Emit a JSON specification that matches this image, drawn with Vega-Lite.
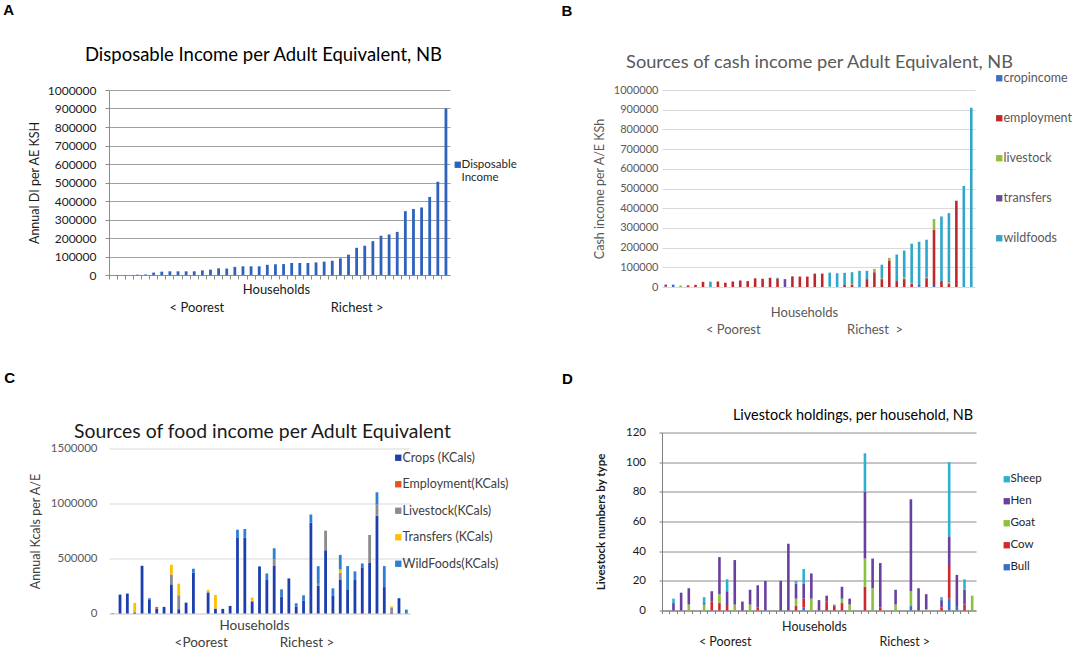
{
  "$schema": "https://vega.github.io/schema/vega-lite/v6.json",
  "padding": {"left": 3, "top": 2, "right": 0, "bottom": 0},
  "background": "white",
  "config": {
    "font": "Lato",
    "view": {"stroke": null},
    "title": {"font": "Lato", "fontWeight": "normal"},
    "axis": {"labelFont": "Lato", "titleFont": "Lato", "titleFontWeight": "normal"},
    "legend": {"labelFont": "Lato", "padding": 0, "offset": 0, "symbolType": "square", "symbolSize": 40, "symbolStrokeWidth": 0, "labelOffset": -2, "title": null}
  },
  "datasets": {
    "income": [
      {"household": 1, "income": 0}, {"household": 2, "income": 0}, {"household": 3, "income": 0},
      {"household": 4, "income": 2000}, {"household": 5, "income": 3000}, {"household": 6, "income": 13000},
      {"household": 7, "income": 18000}, {"household": 8, "income": 20000}, {"household": 9, "income": 20000},
      {"household": 10, "income": 20000}, {"household": 11, "income": 20000}, {"household": 12, "income": 25000},
      {"household": 13, "income": 29000}, {"household": 14, "income": 36000}, {"household": 15, "income": 35000},
      {"household": 16, "income": 44000}, {"household": 17, "income": 47000}, {"household": 18, "income": 47000},
      {"household": 19, "income": 47000}, {"household": 20, "income": 55000}, {"household": 21, "income": 58000},
      {"household": 22, "income": 59000}, {"household": 23, "income": 65000}, {"household": 24, "income": 65000},
      {"household": 25, "income": 65000}, {"household": 26, "income": 68000}, {"household": 27, "income": 72000},
      {"household": 28, "income": 77000}, {"household": 29, "income": 90000}, {"household": 30, "income": 110000},
      {"household": 31, "income": 147000}, {"household": 32, "income": 158000}, {"household": 33, "income": 183000},
      {"household": 34, "income": 212000}, {"household": 35, "income": 219000}, {"household": 36, "income": 233000},
      {"household": 37, "income": 345000}, {"household": 38, "income": 357000}, {"household": 39, "income": 365000},
      {"household": 40, "income": 422000}, {"household": 41, "income": 504000}, {"household": 42, "income": 900000}
    ],
    "cash": [
      {"household": 1, "source": "cropincome", "value": 3000}, {"household": 1, "source": "employment", "value": 9000},
      {"household": 2, "source": "cropincome", "value": 12000},
      {"household": 3, "source": "livestock", "value": 8000},
      {"household": 4, "source": "employment", "value": 8000}, {"household": 4, "source": "livestock", "value": 3000},
      {"household": 5, "source": "employment", "value": 11000},
      {"household": 6, "source": "employment", "value": 26000},
      {"household": 7, "source": "wildfoods", "value": 27000},
      {"household": 8, "source": "employment", "value": 28000},
      {"household": 9, "source": "employment", "value": 22000},
      {"household": 10, "source": "employment", "value": 28000},
      {"household": 11, "source": "employment", "value": 33000},
      {"household": 12, "source": "employment", "value": 30000},
      {"household": 13, "source": "employment", "value": 44000},
      {"household": 14, "source": "employment", "value": 42000},
      {"household": 15, "source": "employment", "value": 47000},
      {"household": 16, "source": "employment", "value": 42000}, {"household": 16, "source": "wildfoods", "value": 5000},
      {"household": 17, "source": "transfers", "value": 40000},
      {"household": 18, "source": "employment", "value": 54000},
      {"household": 19, "source": "employment", "value": 53000},
      {"household": 20, "source": "employment", "value": 53000},
      {"household": 21, "source": "employment", "value": 68000},
      {"household": 22, "source": "employment", "value": 68000},
      {"household": 23, "source": "livestock", "value": 3000}, {"household": 23, "source": "wildfoods", "value": 70000},
      {"household": 24, "source": "wildfoods", "value": 70000},
      {"household": 25, "source": "employment", "value": 10000}, {"household": 25, "source": "wildfoods", "value": 62000},
      {"household": 26, "source": "employment", "value": 12000}, {"household": 26, "source": "livestock", "value": 3000}, {"household": 26, "source": "wildfoods", "value": 60000},
      {"household": 27, "source": "wildfoods", "value": 82000},
      {"household": 28, "source": "employment", "value": 40000}, {"household": 28, "source": "wildfoods", "value": 42000},
      {"household": 29, "source": "employment", "value": 75000}, {"household": 29, "source": "livestock", "value": 17000},
      {"household": 30, "source": "employment", "value": 40000}, {"household": 30, "source": "livestock", "value": 5000}, {"household": 30, "source": "wildfoods", "value": 68000},
      {"household": 31, "source": "employment", "value": 135000}, {"household": 31, "source": "livestock", "value": 13000},
      {"household": 32, "source": "employment", "value": 30000}, {"household": 32, "source": "wildfoods", "value": 135000},
      {"household": 33, "source": "employment", "value": 40000}, {"household": 33, "source": "livestock", "value": 10000}, {"household": 33, "source": "wildfoods", "value": 135000},
      {"household": 34, "source": "employment", "value": 15000}, {"household": 34, "source": "livestock", "value": 5000}, {"household": 34, "source": "wildfoods", "value": 200000},
      {"household": 35, "source": "cropincome", "value": 3000}, {"household": 35, "source": "transfers", "value": 7000}, {"household": 35, "source": "wildfoods", "value": 220000},
      {"household": 36, "source": "employment", "value": 45000}, {"household": 36, "source": "livestock", "value": 5000}, {"household": 36, "source": "wildfoods", "value": 190000},
      {"household": 37, "source": "cropincome", "value": 5000}, {"household": 37, "source": "employment", "value": 285000}, {"household": 37, "source": "livestock", "value": 55000},
      {"household": 38, "source": "employment", "value": 30000}, {"household": 38, "source": "wildfoods", "value": 328000},
      {"household": 39, "source": "employment", "value": 15000}, {"household": 39, "source": "livestock", "value": 10000}, {"household": 39, "source": "wildfoods", "value": 350000},
      {"household": 40, "source": "employment", "value": 438000},
      {"household": 41, "source": "wildfoods", "value": 513000},
      {"household": 42, "source": "wildfoods", "value": 910000}
    ],
    "food": [
      {"household": 1, "source": "Crops (KCals)", "value": 3000},
      {"household": 2, "source": "Crops (KCals)", "value": 172000},
      {"household": 3, "source": "Crops (KCals)", "value": 181000},
      {"household": 4, "source": "Crops (KCals)", "value": 10000}, {"household": 4, "source": "Transfers (KCals)", "value": 86000},
      {"household": 5, "source": "Crops (KCals)", "value": 434000},
      {"household": 6, "source": "Crops (KCals)", "value": 129000}, {"household": 6, "source": "WildFoods(KCals)", "value": 10000},
      {"household": 7, "source": "Crops (KCals)", "value": 45000}, {"household": 7, "source": "Employment(KCals)", "value": 15000},
      {"household": 8, "source": "Crops (KCals)", "value": 60000},
      {"household": 9, "source": "Crops (KCals)", "value": 265000}, {"household": 9, "source": "Livestock(KCals)", "value": 90000}, {"household": 9, "source": "Transfers (KCals)", "value": 88000},
      {"household": 10, "source": "Crops (KCals)", "value": 39000}, {"household": 10, "source": "Livestock(KCals)", "value": 127000}, {"household": 10, "source": "Transfers (KCals)", "value": 105000},
      {"household": 11, "source": "Crops (KCals)", "value": 99000},
      {"household": 12, "source": "Crops (KCals)", "value": 370000}, {"household": 12, "source": "WildFoods(KCals)", "value": 37000},
      {"household": 13, "source": "Crops (KCals)", "value": 0},
      {"household": 14, "source": "Crops (KCals)", "value": 192000}, {"household": 14, "source": "Transfers (KCals)", "value": 22000},
      {"household": 15, "source": "Crops (KCals)", "value": 45000}, {"household": 15, "source": "Transfers (KCals)", "value": 124000},
      {"household": 16, "source": "Crops (KCals)", "value": 42000},
      {"household": 17, "source": "Crops (KCals)", "value": 69000},
      {"household": 18, "source": "Crops (KCals)", "value": 687000}, {"household": 18, "source": "WildFoods(KCals)", "value": 75000},
      {"household": 19, "source": "Crops (KCals)", "value": 690000}, {"household": 19, "source": "WildFoods(KCals)", "value": 78000},
      {"household": 20, "source": "Crops (KCals)", "value": 105000}, {"household": 20, "source": "Livestock(KCals)", "value": 10000}, {"household": 20, "source": "Transfers (KCals)", "value": 30000},
      {"household": 21, "source": "Crops (KCals)", "value": 426000}, {"household": 21, "source": "WildFoods(KCals)", "value": 5000},
      {"household": 22, "source": "Crops (KCals)", "value": 310000}, {"household": 22, "source": "WildFoods(KCals)", "value": 54000},
      {"household": 23, "source": "Crops (KCals)", "value": 437000}, {"household": 23, "source": "Livestock(KCals)", "value": 54000}, {"household": 23, "source": "WildFoods(KCals)", "value": 102000},
      {"household": 24, "source": "Crops (KCals)", "value": 155000}, {"household": 24, "source": "WildFoods(KCals)", "value": 65000},
      {"household": 25, "source": "Crops (KCals)", "value": 319000},
      {"household": 26, "source": "Crops (KCals)", "value": 60000}, {"household": 26, "source": "WildFoods(KCals)", "value": 33000},
      {"household": 27, "source": "Crops (KCals)", "value": 115000}, {"household": 27, "source": "WildFoods(KCals)", "value": 51000},
      {"household": 28, "source": "Crops (KCals)", "value": 825000}, {"household": 28, "source": "WildFoods(KCals)", "value": 75000},
      {"household": 29, "source": "Crops (KCals)", "value": 250000}, {"household": 29, "source": "Livestock(KCals)", "value": 20000}, {"household": 29, "source": "WildFoods(KCals)", "value": 160000},
      {"household": 30, "source": "Crops (KCals)", "value": 575000}, {"household": 30, "source": "Livestock(KCals)", "value": 178000},
      {"household": 31, "source": "Crops (KCals)", "value": 160000}, {"household": 31, "source": "WildFoods(KCals)", "value": 69000},
      {"household": 32, "source": "Crops (KCals)", "value": 310000}, {"household": 32, "source": "Livestock(KCals)", "value": 60000}, {"household": 32, "source": "Transfers (KCals)", "value": 30000}, {"household": 32, "source": "WildFoods(KCals)", "value": 133000},
      {"household": 33, "source": "Crops (KCals)", "value": 220000}, {"household": 33, "source": "WildFoods(KCals)", "value": 211000},
      {"household": 34, "source": "Crops (KCals)", "value": 310000}, {"household": 34, "source": "WildFoods(KCals)", "value": 73000},
      {"household": 35, "source": "Crops (KCals)", "value": 420000}, {"household": 35, "source": "WildFoods(KCals)", "value": 35000},
      {"household": 36, "source": "Crops (KCals)", "value": 460000}, {"household": 36, "source": "Livestock(KCals)", "value": 254000},
      {"household": 37, "source": "Crops (KCals)", "value": 890000}, {"household": 37, "source": "Livestock(KCals)", "value": 100000}, {"household": 37, "source": "WildFoods(KCals)", "value": 112000},
      {"household": 38, "source": "Crops (KCals)", "value": 240000}, {"household": 38, "source": "WildFoods(KCals)", "value": 191000},
      {"household": 39, "source": "Crops (KCals)", "value": 10000}, {"household": 39, "source": "Employment(KCals)", "value": 5000}, {"household": 39, "source": "Livestock(KCals)", "value": 35000}, {"household": 39, "source": "Transfers (KCals)", "value": 15000},
      {"household": 40, "source": "Crops (KCals)", "value": 139000},
      {"household": 41, "source": "WildFoods(KCals)", "value": 35000}
    ],
    "livestock": [
      {"household": 1, "type": "Hen", "count": 0},
      {"household": 2, "type": "Hen", "count": 5}, {"household": 2, "type": "Sheep", "count": 3},
      {"household": 3, "type": "Hen", "count": 12},
      {"household": 4, "type": "Goat", "count": 4}, {"household": 4, "type": "Hen", "count": 11},
      {"household": 5, "type": "Hen", "count": 0},
      {"household": 6, "type": "Goat", "count": 4}, {"household": 6, "type": "Hen", "count": 1}, {"household": 6, "type": "Sheep", "count": 4},
      {"household": 7, "type": "Cow", "count": 6}, {"household": 7, "type": "Hen", "count": 7},
      {"household": 8, "type": "Cow", "count": 5}, {"household": 8, "type": "Goat", "count": 6}, {"household": 8, "type": "Hen", "count": 25},
      {"household": 9, "type": "Cow", "count": 3}, {"household": 9, "type": "Hen", "count": 10}, {"household": 9, "type": "Sheep", "count": 8},
      {"household": 10, "type": "Goat", "count": 4}, {"household": 10, "type": "Hen", "count": 30},
      {"household": 11, "type": "Hen", "count": 6},
      {"household": 12, "type": "Goat", "count": 4}, {"household": 12, "type": "Hen", "count": 10},
      {"household": 13, "type": "Cow", "count": 2}, {"household": 13, "type": "Hen", "count": 15},
      {"household": 14, "type": "Hen", "count": 20},
      {"household": 15, "type": "Hen", "count": 0},
      {"household": 16, "type": "Hen", "count": 20},
      {"household": 17, "type": "Hen", "count": 45},
      {"household": 18, "type": "Cow", "count": 3}, {"household": 18, "type": "Goat", "count": 5}, {"household": 18, "type": "Hen", "count": 10}, {"household": 18, "type": "Sheep", "count": 2},
      {"household": 19, "type": "Bull", "count": 2}, {"household": 19, "type": "Cow", "count": 6}, {"household": 19, "type": "Hen", "count": 10}, {"household": 19, "type": "Sheep", "count": 10},
      {"household": 20, "type": "Goat", "count": 8}, {"household": 20, "type": "Hen", "count": 17},
      {"household": 21, "type": "Hen", "count": 7},
      {"household": 22, "type": "Cow", "count": 6}, {"household": 22, "type": "Hen", "count": 4},
      {"household": 23, "type": "Cow", "count": 3}, {"household": 23, "type": "Sheep", "count": 1},
      {"household": 24, "type": "Cow", "count": 5}, {"household": 24, "type": "Goat", "count": 3}, {"household": 24, "type": "Hen", "count": 8},
      {"household": 25, "type": "Goat", "count": 4}, {"household": 25, "type": "Hen", "count": 4},
      {"household": 26, "type": "Hen", "count": 0},
      {"household": 27, "type": "Cow", "count": 16}, {"household": 27, "type": "Goat", "count": 19}, {"household": 27, "type": "Hen", "count": 45}, {"household": 27, "type": "Sheep", "count": 26},
      {"household": 28, "type": "Goat", "count": 15}, {"household": 28, "type": "Hen", "count": 20},
      {"household": 29, "type": "Cow", "count": 2}, {"household": 29, "type": "Hen", "count": 30},
      {"household": 30, "type": "Hen", "count": 0},
      {"household": 31, "type": "Goat", "count": 4}, {"household": 31, "type": "Hen", "count": 10},
      {"household": 32, "type": "Hen", "count": 0},
      {"household": 33, "type": "Bull", "count": 3}, {"household": 33, "type": "Goat", "count": 10}, {"household": 33, "type": "Hen", "count": 62},
      {"household": 34, "type": "Hen", "count": 15},
      {"household": 35, "type": "Goat", "count": 1}, {"household": 35, "type": "Hen", "count": 10},
      {"household": 36, "type": "Hen", "count": 0},
      {"household": 37, "type": "Cow", "count": 2}, {"household": 37, "type": "Hen", "count": 5}, {"household": 37, "type": "Sheep", "count": 2},
      {"household": 38, "type": "Bull", "count": 8}, {"household": 38, "type": "Cow", "count": 22}, {"household": 38, "type": "Hen", "count": 20}, {"household": 38, "type": "Sheep", "count": 50},
      {"household": 39, "type": "Bull", "count": 3}, {"household": 39, "type": "Hen", "count": 21},
      {"household": 40, "type": "Cow", "count": 4}, {"household": 40, "type": "Hen", "count": 10}, {"household": 40, "type": "Sheep", "count": 7},
      {"household": 41, "type": "Goat", "count": 10}
    ]
  },
  "resolve": {"scale": {"color": "independent", "x": "independent", "y": "independent"}, "legend": {"color": "independent"}},
  "spacing": 44,
  "hconcat": [
    {
      "resolve": {"scale": {"color": "independent", "x": "independent", "y": "independent"}, "legend": {"color": "independent"}},
      "spacing": 55.5,
      "vconcat": [
        {
          "title": {"text": "A", "anchor": "start", "frame": "bounds", "font": "Liberation Sans", "fontSize": 15, "fontWeight": "bold", "color": "#000000", "dx": -25, "offset": 28},
          "resolve": {"scale": {"color": "independent"}, "legend": {"color": "independent"}},
          "vconcat": [
            {
              "width": 341,
              "height": 185,
              "data": {"name": "income"},
              "title": {"text": "Disposable Income per Adult Equivalent, NB", "frame": "group", "anchor": "middle", "fontSize": 18.5, "color": "#000000", "dx": -16, "offset": 20},
              "mark": {"type": "bar", "width": 2.8},
              "encoding": {
                "x": {
                  "field": "household", "type": "ordinal",
                  "scale": {"paddingInner": 0, "paddingOuter": 0},
                  "axis": {
                    "labels": false, "bandPosition": 0, "ticks": true, "tickSize": 4, "tickColor": "#8c8c8c", "domainColor": "#8c8c8c",
                    "title": ["Households", "< Poorest\u00a0\u00a0\u00a0\u00a0\u00a0\u00a0\u00a0\u00a0\u00a0\u00a0\u00a0\u00a0\u00a0\u00a0\u00a0\u00a0\u00a0\u00a0\u00a0\u00a0\u00a0\u00a0\u00a0\u00a0\u00a0\u00a0\u00a0\u00a0\u00a0\u00a0\u00a0\u00a0Richest >"],
                    "titleX": 167, "titleAlign": "center",
                    "titleFontSize": 13, "titleLineHeight": 18, "titlePadding": 4, "titleColor": "#1a1a1a"
                  }
                },
                "y": {
                  "field": "income", "type": "quantitative",
                  "scale": {"domain": [0, 1000000], "nice": false},
                  "axis": {
                    "values": [0, 100000, 200000, 300000, 400000, 500000, 600000, 700000, 800000, 900000, 1000000],
                    "format": "d", "grid": true, "gridColor": "#a0a0a0", "domainColor": "#8c8c8c", "tickColor": "#8c8c8c", "tickSize": 4,
                    "labelFontSize": 12, "labelColor": "#1a1a1a", "labelPadding": 9,
                    "title": "Annual DI per AE KSH", "titleFontSize": 12.5, "titleColor": "#1a1a1a", "titlePadding": 6
                  }
                },
                "color": {
                  "datum": "Disposable Income", "type": "nominal",
                  "scale": {"domain": ["Disposable Income"], "range": ["#2e62bd"]},
                  "legend": {"orient": "none", "legendX": 343, "legendY": 69, "labelExpr": "['Disposable', 'Income']", "labelFontSize": 11.5, "labelColor": "#262626"}
                }
              }
            }
          ]
        },
        {
          "title": {"text": "C", "anchor": "start", "frame": "bounds", "font": "Liberation Sans", "fontSize": 15, "fontWeight": "bold", "color": "#000000", "dx": -25, "offset": 36},
          "resolve": {"scale": {"color": "independent"}, "legend": {"color": "independent"}},
          "vconcat": [
            {
              "width": 301,
              "height": 165,
              "data": {"name": "food"},
              "title": {"text": "Sources of food income per Adult Equivalent", "frame": "group", "anchor": "middle", "fontSize": 19.4, "color": "#1a1a1a", "dx": 3, "offset": 0},
              "mark": {"type": "bar", "width": 2.8},
              "encoding": {
                "x": {
                  "field": "household", "type": "ordinal",
                  "scale": {"paddingInner": 0, "paddingOuter": 0},
                  "axis": {
                    "labels": false, "ticks": false, "domainColor": "#d9d9d9",
                    "title": ["Households", "<Poorest\u00a0\u00a0\u00a0\u00a0\u00a0\u00a0\u00a0\u00a0\u00a0\u00a0\u00a0\u00a0\u00a0\u00a0\u00a0Richest >\u00a0\u00a0\u00a0\u00a0\u00a0\u00a0\u00a0\u00a0\u00a0\u00a0"],
                    "titleX": 145, "titleAlign": "center",
                    "titleFontSize": 13.5, "titleLineHeight": 17, "titlePadding": 5, "titleColor": "#404040"
                  }
                },
                "y": {
                  "field": "value", "type": "quantitative", "stack": "zero",
                  "scale": {"domain": [0, 1500000], "nice": false},
                  "axis": {
                    "values": [0, 500000, 1000000, 1500000],
                    "format": "d", "grid": true, "gridColor": "#d9d9d9", "domain": false, "ticks": false,
                    "labelFontSize": 11.5, "labelColor": "#595959", "labelPadding": 12,
                    "title": "Annual Kcals per A/E", "titleFontSize": 12.5, "titleColor": "#404040", "titlePadding": 8
                  }
                },
                "color": {
                  "field": "source", "type": "nominal",
                  "scale": {"domain": ["Crops (KCals)", "Employment(KCals)", "Livestock(KCals)", "Transfers (KCals)", "WildFoods(KCals)"], "range": ["#1c3fae", "#e8501c", "#8c8c8c", "#ffbf00", "#2d7fd4"]},
                  "legend": {"orient": "none", "legendX": 283, "legendY": 3, "rowPadding": 13.5, "labelFontSize": 12.5, "labelColor": "#404040"}
                },
                "order": {"field": "source", "type": "ordinal", "sort": "ascending"}
              }
            }
          ]
        }
      ]
    },
    {
      "resolve": {"scale": {"color": "independent", "x": "independent", "y": "independent"}, "legend": {"color": "independent"}},
      "spacing": 35.5,
      "vconcat": [
        {
          "title": {"text": "B", "anchor": "start", "frame": "bounds", "font": "Liberation Sans", "fontSize": 15, "fontWeight": "bold", "color": "#000000", "dx": -31.75, "offset": 34},
          "resolve": {"scale": {"color": "independent"}, "legend": {"color": "independent"}},
          "vconcat": [
            {
              "width": 313,
              "height": 197,
              "data": {"name": "cash"},
              "title": {"text": "Sources of cash income per Adult Equivalent, NB", "frame": "group", "anchor": "middle", "fontSize": 18.2, "color": "#595959", "dx": 1, "offset": 0},
              "mark": {"type": "bar", "width": 2.6},
              "encoding": {
                "x": {
                  "field": "household", "type": "ordinal",
                  "scale": {"paddingInner": 0, "paddingOuter": 0},
                  "axis": {
                    "labels": false, "ticks": false, "domain": false,
                    "title": ["Households", "< Poorest\u00a0\u00a0\u00a0\u00a0\u00a0\u00a0\u00a0\u00a0\u00a0\u00a0\u00a0\u00a0\u00a0\u00a0\u00a0\u00a0\u00a0\u00a0\u00a0\u00a0\u00a0\u00a0\u00a0\u00a0\u00a0\u00a0Richest\u00a0\u00a0>"],
                    "titleX": 142, "titleAlign": "center",
                    "titleFontSize": 13, "titleLineHeight": 17, "titlePadding": 19, "titleColor": "#595959"
                  }
                },
                "y": {
                  "field": "value", "type": "quantitative", "stack": "zero",
                  "scale": {"domain": [0, 1000000], "nice": false},
                  "axis": {
                    "values": [0, 100000, 200000, 300000, 400000, 500000, 600000, 700000, 800000, 900000, 1000000],
                    "format": "d", "grid": true, "gridColor": "#d9d9d9", "domain": false, "ticks": false,
                    "labelFontSize": 11, "labelColor": "#595959", "labelPadding": 4,
                    "title": "Cash income per A/E KSh", "titleFontSize": 12.5, "titleColor": "#595959", "titlePadding": 7
                  }
                },
                "color": {
                  "field": "source", "type": "nominal",
                  "scale": {"domain": ["cropincome", "employment", "livestock", "transfers", "wildfoods"], "range": ["#3a6fc4", "#c0282c", "#8dc03c", "#6a4a9e", "#2fa6cc"]},
                  "legend": {"orient": "none", "legendX": 331, "legendY": -18, "rowPadding": 27, "labelFontSize": 12.5, "labelColor": "#595959"}
                },
                "order": {"field": "source", "type": "ordinal", "sort": "ascending"}
              }
            }
          ]
        },
        {
          "title": {"text": "D", "anchor": "start", "frame": "bounds", "font": "Liberation Sans", "fontSize": 15, "fontWeight": "bold", "color": "#000000", "dx": -33.6, "offset": 21},
          "resolve": {"scale": {"color": "independent"}, "legend": {"color": "independent"}},
          "vconcat": [
            {
              "width": 314,
              "height": 178,
              "data": {"name": "livestock"},
              "title": {"text": "Livestock holdings, per household, NB", "frame": "group", "anchor": "middle", "fontSize": 14.4, "color": "#000000", "dx": 34, "offset": 3},
              "mark": {"type": "bar", "width": 2.6},
              "encoding": {
                "x": {
                  "field": "household", "type": "ordinal",
                  "scale": {"paddingInner": 0, "paddingOuter": 0},
                  "axis": {
                    "labels": false, "bandPosition": 0, "ticks": true, "tickSize": 3, "tickColor": "#7f7f7f", "domainColor": "#7f7f7f",
                    "title": ["Households", "< Poorest\u00a0\u00a0\u00a0\u00a0\u00a0\u00a0\u00a0\u00a0\u00a0\u00a0\u00a0\u00a0\u00a0\u00a0\u00a0\u00a0\u00a0\u00a0\u00a0\u00a0\u00a0\u00a0\u00a0\u00a0\u00a0\u00a0\u00a0\u00a0\u00a0\u00a0\u00a0\u00a0\u00a0\u00a0\u00a0\u00a0\u00a0\u00a0\u00a0\u00a0Richest >"],
                    "titleX": 152, "titleAlign": "center",
                    "titleFontSize": 12.5, "titleLineHeight": 15, "titlePadding": 6, "titleColor": "#1a1a1a"
                  }
                },
                "y": {
                  "field": "count", "type": "quantitative", "stack": "zero",
                  "scale": {"domain": [0, 120], "nice": false},
                  "axis": {
                    "values": [0, 20, 40, 60, 80, 100, 120],
                    "grid": true, "gridColor": "#8c8c8c", "domainColor": "#7f7f7f", "tickColor": "#7f7f7f", "tickSize": 3,
                    "labelFontSize": 11.5, "labelColor": "#1a1a1a", "labelPadding": 13.5,
                    "title": "Livestock numbers by type", "titleFontSize": 11.5, "titleFontWeight": "bold", "titleColor": "#1a1a1a", "titlePadding": 19
                  }
                },
                "color": {
                  "field": "type", "type": "nominal",
                  "scale": {"domain": ["Sheep", "Hen", "Goat", "Cow", "Bull"], "range": ["#2fb0d0", "#6b3fa0", "#8dc03c", "#d0282c", "#3a6fc4"]},
                  "legend": {"orient": "none", "legendX": 339, "legendY": 41, "rowPadding": 9, "labelFontSize": 11.5, "labelColor": "#262626"}
                },
                "order": {"field": "type", "type": "ordinal", "sort": "ascending"}
              }
            }
          ]
        }
      ]
    }
  ]
}
